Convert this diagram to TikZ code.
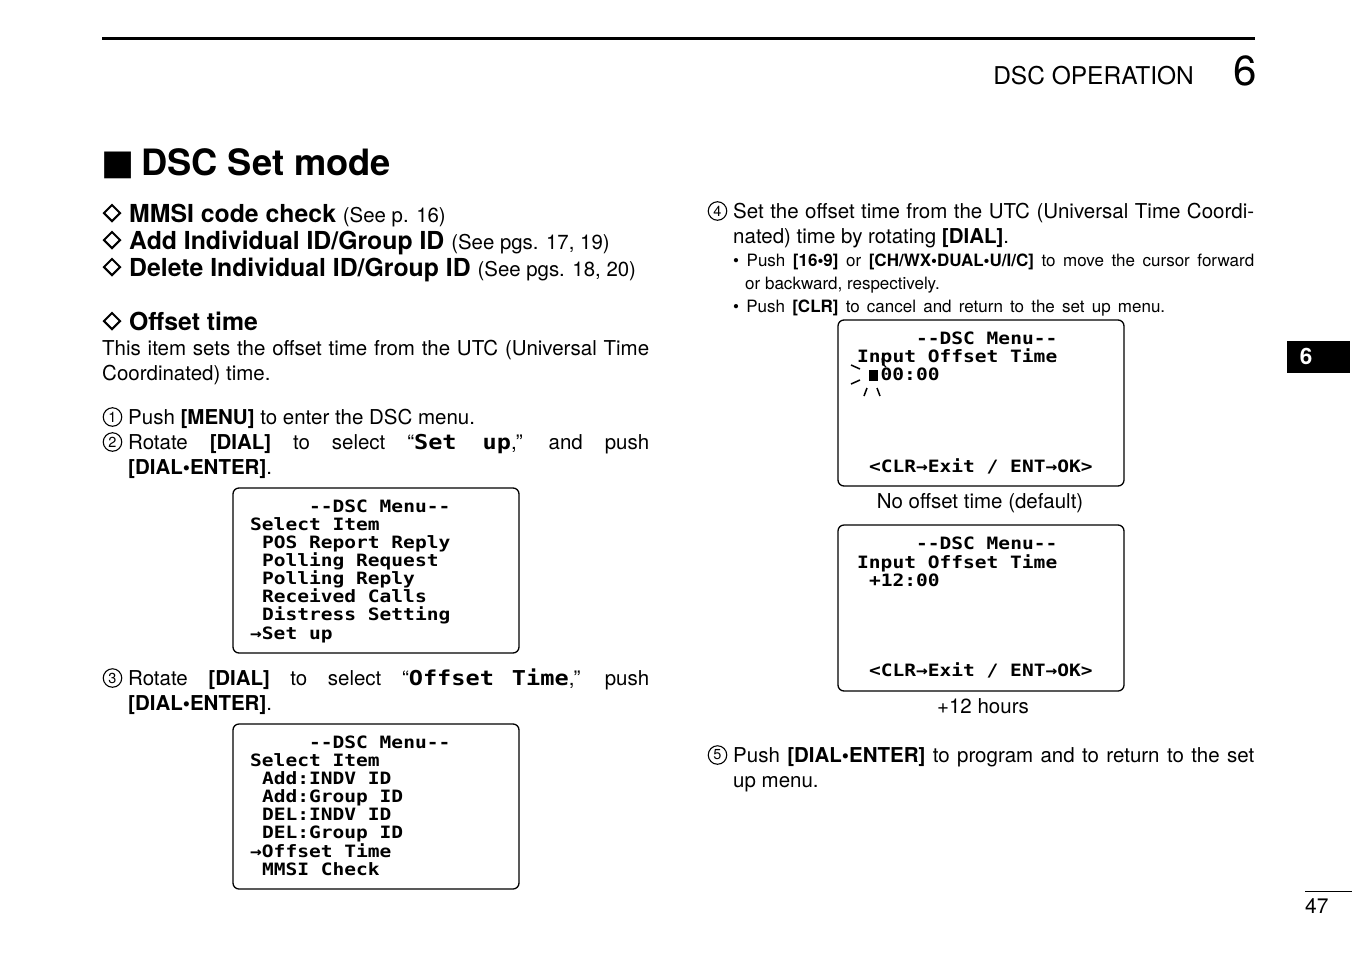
\documentclass[tikz,border=0pt]{standalone}
\usepackage{fontspec}
\usetikzlibrary{shapes.geometric}
\setmainfont{TeX Gyre Heros}
\newfontfamily\lcdfont[FakeStretch=1.15]{DejaVu Sans Mono}
\newfontfamily\symfont{DejaVu Sans}
\newcommand\fsz[1]{\fontsize{#1}{#1}\selectfont}
\newcommand\lcdin[1]{{\lcdfont\bfseries\fontsize{20.5}{20}\selectfont #1}}
\newcommand\jl[2]{\hbox to #1pt{#2}}
\begin{document}
\begin{tikzpicture}[x=1pt,y=-1pt]
\tikzset{
 bodytxt/.style={anchor=base west, inner sep=0pt, font=\fsz{20.5}},
 smalltxt/.style={anchor=base west, inner sep=0pt, font=\fsz{17}},
 headtxt/.style={anchor=base west, inner sep=0pt, font=\bfseries\fsz{24.8}},
 circnum/.style={circle, draw, line width=1.1pt, minimum size=18.5pt, inner sep=0pt, font=\fsz{14.5}},
 diam/.style={draw, diamond, aspect=1, line width=2pt, minimum width=17pt, minimum height=17pt, inner sep=0pt},
 lcd/.style={anchor=base west, inner sep=0pt, font={\lcdfont\bfseries\fsz{17}}},
 lcdbox/.style={draw, line width=1.3pt, rounded corners=6pt},
 ray/.style={line width=1.5pt},
}
\fill[white] (0,0) rectangle (1352,954);
\useasboundingbox (0,0) rectangle (1352,954);

% header
\coordinate (hl) at (102,38); \coordinate (hr) at (1255,38);
\draw[line width=3pt] (hl) -- (hr);
\node[anchor=base east, inner sep=0pt, font=\fsz{24.5}] (hdr) at (1194,84) {DSC OPERATION};
\node[anchor=base west, inner sep=0pt, font=\fsz{42}] (hnum) at (1233,85) {6};

% title
\node[anchor=base west, inner sep=0pt, font={\symfont\fsz{35}}] (tsq) at (101,174) {■};
\node[anchor=base west, inner sep=0pt, font=\bfseries\fsz{36.3}] (title) at (141,175) {DSC Set mode};

% subheadings
\node[diam] (d1) at (112,213) {};
\node[headtxt] (h1) at (129,222) {MMSI code check {\mdseries\fsz{20.4}(See p. 16)}};
\node[diam] (d2) at (112,240) {};
\node[headtxt] (h2) at (129,249) {Add Individual ID/Group ID {\mdseries\fsz{20.4}(See pgs. 17, 19)}};
\node[diam] (d3) at (112,267) {};
\node[headtxt] (h3) at (129,276) {Delete Individual ID/Group ID {\mdseries\fsz{20.4}(See pgs. 18, 20)}};
\node[diam] (d4) at (112,321) {};
\node[headtxt] (h4) at (129,330) {Offset time};

% left body
\node[bodytxt] (t1) at (102,355) {\jl{547}{This item sets the offset time from the UTC (Universal Time}};
\node[bodytxt] (t2) at (102,380) {Coordinated) time.};
\node[circnum] (c1) at (112.5,417) {1};
\node[bodytxt] (s1) at (128,424) {Push \textbf{[MENU]} to enter the DSC menu.};
\node[circnum] (c2) at (112.5,442) {2};
\node[bodytxt] (s2) at (128,449) {\jl{521}{Rotate \textbf{[DIAL]} to select “\lcdin{Set\hspace{26pt}up},” and push}};
\node[bodytxt] (s2b) at (128,474) {\textbf{[DIAL•ENTER]}.};
\node[circnum] (c3) at (112.5,678) {3};
\node[bodytxt] (s3) at (128,685) {\jl{521}{Rotate \textbf{[DIAL]} to select “\lcdin{Offset\hspace{18pt}Time},” push}};
\node[bodytxt] (s3b) at (128,710) {\textbf{[DIAL•ENTER]}.};

% LCD box 1
\draw[lcdbox] (233,488) rectangle (519,653);
\node[lcd] (a0) at (308.9,512) {--DSC Menu--};
\node[lcd] (a1) at (250,530) {Select Item};
\node[lcd] (a2) at (261.8,548) {POS Report Reply};
\node[lcd] (a3) at (261.8,566) {Polling Request};
\node[lcd] (a4) at (261.8,584) {Polling Reply};
\node[lcd] (a5) at (261.8,602) {Received Calls};
\node[lcd] (a6) at (261.8,620) {Distress Setting};
\node[lcd] (a7) at (250,639) {→Set up};

% LCD box 2
\draw[lcdbox] (233,724) rectangle (519,889);
\node[lcd] (b0) at (308.9,748) {--DSC Menu--};
\node[lcd] (b1) at (250,766) {Select Item};
\node[lcd] (b2) at (261.8,784) {Add:INDV ID};
\node[lcd] (b3) at (261.8,802) {Add:Group ID};
\node[lcd] (b4) at (261.8,820) {DEL:INDV ID};
\node[lcd] (b5) at (261.8,838) {DEL:Group ID};
\node[lcd] (b6) at (250,857) {→Offset Time};
\node[lcd] (b7) at (261.8,875) {MMSI Check};

% right body
\node[circnum] (c4) at (717.5,211) {4};
\node[bodytxt] (s4) at (733,218) {\jl{521}{Set the offset time from the UTC (Universal Time Coordi-}};
\node[bodytxt] (s4b) at (733,243) {nated) time by rotating \textbf{[DIAL]}.};
\node[smalltxt] (u1) at (733,266) {\jl{521}{• Push \textbf{[16•9]} or \textbf{[CH/WX•DUAL•U/I/C]} to move the cursor forward}};
\node[smalltxt] (u1b) at (745,289) {or backward, respectively.};
\node[smalltxt] (u2) at (733,312) {\jl{432}{• Push \textbf{[CLR]} to cancel and return to the set up menu.}};

% LCD box R1
\draw[lcdbox] (838,320) rectangle (1124,486);
\node[lcd] (r0) at (915.9,344) {--DSC Menu--};
\node[lcd] (r1) at (857,362) {Input Offset Time};
\fill (869,370) rectangle (878,381);
\node[lcd] (r2) at (880.5,380) {00:00};
\node[lcd] (r7) at (868.8,472) {<CLR→Exit / ENT→OK>};
\draw[ray] (851,365) -- (860,369);
\draw[ray] (851,384) -- (860,380);
\draw[ray] (864,396) -- (867,388);
\draw[ray] (880,396) -- (877,388);
\draw[line width=1.2pt] (886,367) arc[start angle=120, end angle=240, radius=8];

\node[anchor=base, inner sep=0pt, font=\fsz{20.5}] (cap1) at (980,508) {No offset time (default)};

% LCD box R2
\draw[lcdbox] (838,525) rectangle (1124,691);
\node[lcd] (q0) at (915.9,549) {--DSC Menu--};
\node[lcd] (q1) at (857,568) {Input Offset Time};
\node[lcd] (q2) at (868.8,586) {+12:00};
\node[lcd] (q7) at (868.8,676) {<CLR→Exit / ENT→OK>};

\node[anchor=base, inner sep=0pt, font=\fsz{20.5}] (cap2) at (983,713) {+12 hours};

\node[circnum] (c5) at (717.5,755) {5};
\node[bodytxt] (s5) at (733,762) {\jl{521}{Push \textbf{[DIAL•ENTER]} to program and to return to the set}};
\node[bodytxt] (s5b) at (733,787) {up menu.};

% side tab
\fill (1287,341) rectangle (1350,373);
\node[anchor=base, inner sep=0pt, font=\bfseries\fsz{22.5}, text=white] (tab) at (1306,364) {6};

% page number
\coordinate (pl) at (1305,891); \coordinate (pr) at (1352,891);
\draw[line width=1pt] (pl) -- (pr);
\node[anchor=base west, inner sep=0pt, font=\fsz{21}] (pnum) at (1305,913) {47};
\end{tikzpicture}
\end{document}
